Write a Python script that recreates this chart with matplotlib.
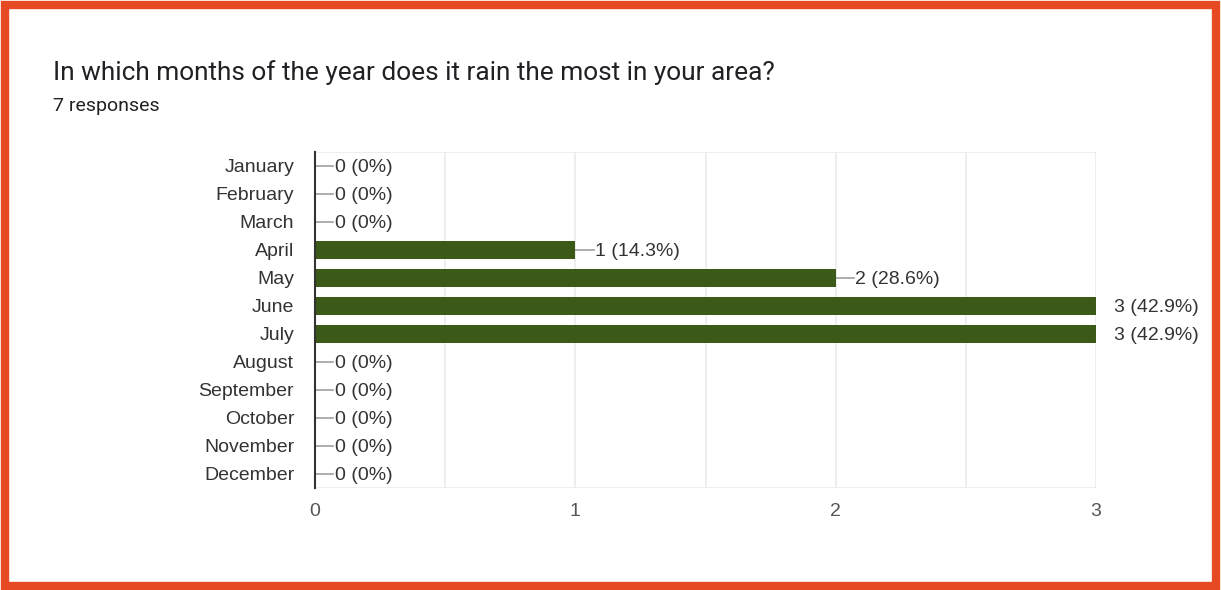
import matplotlib.pyplot as plt
from matplotlib.patches import Rectangle

plt.rcParams['font.family'] = ['Roboto', 'DejaVu Sans']

months = ['January', 'February', 'March', 'April', 'May', 'June', 'July',
          'August', 'September', 'October', 'November', 'December']
counts = [0, 0, 0, 1, 2, 3, 3, 0, 0, 0, 0, 0]
n_responses = 7
xticks = [0, 1, 2, 3]

title = 'In which months of the year does it rain the most in your area?'
subtitle = '%d responses' % n_responses

bar_color = '#3b5a18'
frame_color = '#e64a22'
chart_font = ['Liberation Sans', 'DejaVu Sans']
fs = 14

fig = plt.figure(figsize=(12.21, 5.90), dpi=100)

# orange frame round the whole card
fig.patches.append(Rectangle((5/1221, 4/590), 1 - 10/1221, 1 - 9/590,
                             transform=fig.transFigure, fill=False,
                             edgecolor=frame_color, linewidth=6))

fig.text(53/1221, 1 - 73/590, title, fontsize=18.9, color='#202124', va='center')
fig.text(53/1221, 1 - 106/590, subtitle, fontsize=14, color='#202124', va='center')

ax = fig.add_axes([315/1221, 1 - 488/590, (1096-315)/1221, (488-152)/590])

y = list(range(len(months)))
ax.barh(y, counts, height=0.65, color=bar_color, zorder=3)
ax.set_ylim(len(months) - 0.5, -0.5)
ax.set_xlim(0, 3)

ax.set_yticks(y)
ax.set_yticklabels(months, fontsize=fs, color='#333333', family=chart_font,
                   va='center_baseline')
ax.set_xticks(xticks)
ax.set_xticklabels([str(t) for t in xticks], fontsize=fs, color='#555555',
                   family=chart_font)
ax.tick_params(axis='y', length=0, pad=15)
ax.tick_params(axis='x', length=0, pad=11)

# grid every half unit
for gx in [0.5, 1, 1.5, 2, 2.5, 3]:
    ax.axvline(gx, color='#ebebeb', linewidth=1.2, zorder=1)
ax.axhline(-0.5, color='#ebebeb', linewidth=1.2, zorder=1)
ax.axhline(len(months) - 0.5, color='#ebebeb', linewidth=1.2, zorder=1)

for s in ['top', 'right', 'bottom']:
    ax.spines[s].set_visible(False)
ax.spines['left'].set_color('#333333')
ax.spines['left'].set_linewidth(1.5)
ax.spines['left'].set_zorder(4)

# value labels with a short leader line
lead = 0.07
for yi, c in zip(y, counts):
    pct = 100.0 * c / n_responses
    ptxt = '%d%%' % pct if c == 0 else '%.1f%%' % pct
    label = '%d (%s)' % (c, ptxt)
    if c < max(xticks):
        ax.plot([c, c + lead], [yi, yi], color='#9e9e9e', linewidth=1.2,
                zorder=2, clip_on=False)
        ax.text(c + lead + 0.005, yi, label, va='center_baseline', ha='left',
                fontsize=fs, color='#333333', family=chart_font)
    else:
        ax.text(c + lead, yi, label, va='center_baseline', ha='left',
                fontsize=fs, color='#333333', family=chart_font, clip_on=False)

fig.savefig('out.png', dpi=100)
